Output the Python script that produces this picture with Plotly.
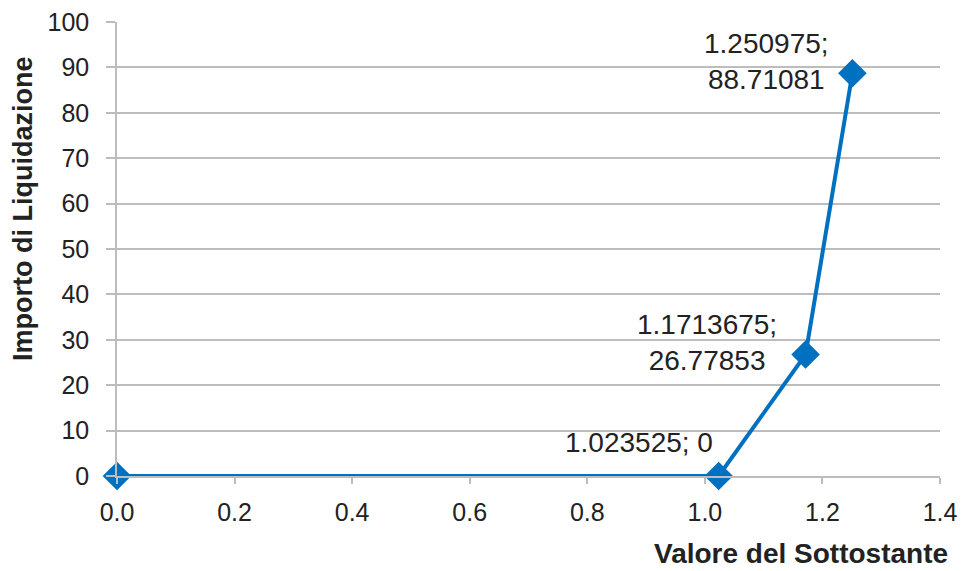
import plotly.graph_objects as go

x_vals = [0.0, 1.023525, 1.1713675, 1.250975]
y_vals = [0, 0, 26.77853, 88.71081]
label_text = ["", "1.023525; 0", "1.1713675;<br>26.77853", "1.250975;<br>88.71081"]
label_anchor_y = ["middle", "bottom", "middle", "middle"]
label_dx = [0, -4, -27, -21]
label_dy = [0, 16, 12, 12]

x_ticks = [0.0, 0.2, 0.4, 0.6, 0.8, 1.0, 1.2, 1.4]
y_ticks = list(range(0, 101, 10))

blue = "#0070C0"
grid = "#BDBDBD"
txt = "#222222"
font_family = "Liberation Sans, Arial, sans-serif"

fig = go.Figure()
fig.add_trace(go.Scatter(
    x=x_vals, y=y_vals,
    mode="lines+markers",
    line=dict(color=blue, width=4),
    marker=dict(symbol="diamond", size=22, color=blue),
    cliponaxis=False,
    showlegend=False,
))

annotations = []
for xv, yv, t, ay, dx, dy in zip(x_vals, y_vals, label_text, label_anchor_y, label_dx, label_dy):
    if not t:
        continue
    annotations.append(dict(
        x=xv, y=yv, xref="x", yref="y", text=t, showarrow=False,
        xanchor="right", yanchor=ay, align="center", xshift=dx, yshift=dy,
        font=dict(family=font_family, size=28, color=txt),
    ))

annotations.append(dict(
    text="<b>Valore del Sottostante</b>", xref="paper", yref="paper",
    x=1.012, y=-0.17, xanchor="right", yanchor="middle", showarrow=False,
    font=dict(size=28, family=font_family, color=txt),
))
annotations.append(dict(
    text="<b>Importo di Liquidazione</b>", xref="paper", yref="paper",
    x=-0.1142, y=0.588, xanchor="center", yanchor="middle", textangle=-90,
    showarrow=False,
    font=dict(size=27, family=font_family, color=txt),
))

fig.update_layout(
    width=962, height=571,
    margin=dict(l=117, r=22, t=22, b=95),
    paper_bgcolor="white", plot_bgcolor="white",
    font=dict(family=font_family, size=25, color=txt),
    xaxis=dict(
        range=[0, 1.4], tickvals=x_ticks, ticktext=[f"{v:.1f}" for v in x_ticks],
        showgrid=False, zeroline=False, automargin=False,
        showline=True, linecolor=grid, linewidth=1.5,
        ticks="outside", ticklen=6, tickcolor=grid, tickwidth=1.5,
        tickfont=dict(size=25), ticklabelstandoff=7, ticklabeloverflow="allow",
    ),
    yaxis=dict(
        range=[0, 100], tickvals=y_ticks,
        showgrid=True, gridcolor=grid, gridwidth=1.5, zeroline=False, automargin=False,
        showline=True, linecolor=grid, linewidth=1.5,
        ticks="outside", ticklen=9, tickcolor=grid, tickwidth=1.5,
        tickfont=dict(size=25), ticklabelstandoff=12, ticklabeloverflow="allow",
    ),
    annotations=annotations,
)

fig.write_html("out.html", config={"displayModeBar": False},
               post_script="document.body.style.margin='0';")
